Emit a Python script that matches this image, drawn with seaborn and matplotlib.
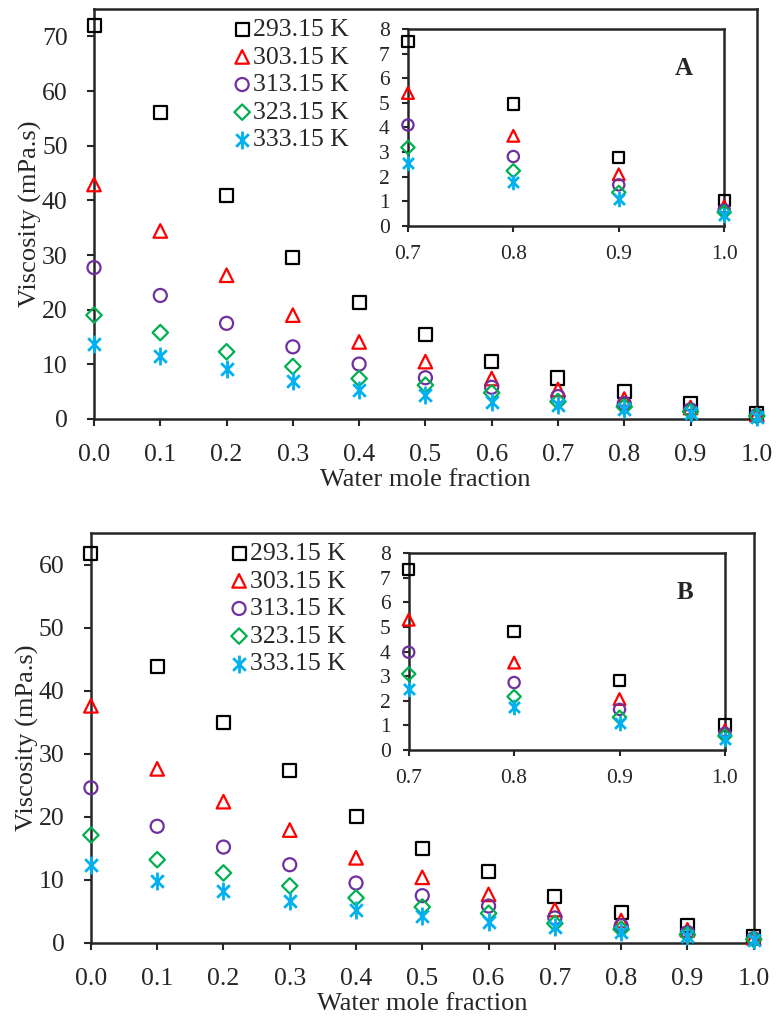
import matplotlib
matplotlib.use("Agg")
import matplotlib.pyplot as plt
from matplotlib.path import Path
import seaborn as sns
import pandas as pd

# ---- data ----
x_frac = [0.0, 0.1, 0.2, 0.3, 0.4, 0.5, 0.6, 0.7, 0.8, 0.9, 1.0]
temps = ["293.15 K", "303.15 K", "313.15 K", "323.15 K", "333.15 K"]

# panel A viscosity (mPa.s)
a_293 = [72.0, 56.0, 40.8, 29.5, 21.4, 15.4, 10.5, 7.5, 4.95, 2.79, 1.02]
a_303 = [42.9, 34.4, 26.3, 19.0, 14.1, 10.5, 7.4, 5.4, 3.66, 2.10, 0.80]
a_313 = [27.7, 22.6, 17.5, 13.2, 10.05, 7.55, 5.8, 4.10, 2.82, 1.67, 0.65]
a_323 = [19.0, 15.8, 12.3, 9.6, 7.4, 6.2, 4.8, 3.19, 2.24, 1.36, 0.56]
a_333 = [13.7, 11.5, 9.1, 7.0, 5.3, 4.4, 3.2, 2.55, 1.80, 1.08, 0.45]

# panel B viscosity (mPa.s)
b_293 = [61.7, 43.8, 34.9, 27.3, 20.1, 15.0, 11.3, 7.32, 4.81, 2.82, 1.02]
b_303 = [37.6, 27.6, 22.4, 17.9, 13.5, 10.4, 7.7, 5.29, 3.55, 2.07, 0.81]
b_313 = [24.6, 18.5, 15.2, 12.4, 9.5, 7.5, 5.85, 3.97, 2.74, 1.65, 0.68]
b_323 = [17.1, 13.2, 11.1, 9.05, 7.15, 5.7, 4.7, 3.09, 2.17, 1.33, 0.57]
b_333 = [12.4, 9.85, 8.2, 6.6, 5.2, 4.3, 3.35, 2.47, 1.74, 1.08, 0.43]

colors = ["#000000", "#FF0000", "#7030A0", "#00B050", "#00B0F0"]

# Excel style asterisk: an X with a vertical bar
d45 = 0.7071
star = Path([(0, -1), (0, 1), (-d45, -d45), (d45, d45), (-d45, d45), (d45, -d45)],
            [Path.MOVETO, Path.LINETO] * 3)
markers = ["s", "^", "o", "D", star]
sizes = [88, 95, 88, 62, 165]

sns.set_style("ticks")
plt.rcParams["font.family"] = ["Liberation Serif", "DejaVu Serif"]
plt.rcParams["axes.linewidth"] = 1.8
plt.rcParams["xtick.direction"] = "out"
plt.rcParams["ytick.direction"] = "out"

fig = plt.figure(figsize=(7.77, 10.16), dpi=100)


def draw_series(ax, series, xs, scale=1.0, keep=None):
    for lab, ys, col, mk, sz in zip(temps, series, colors, markers, sizes):
        d = pd.DataFrame({"x": xs, "y": ys})
        if keep is not None:
            d = d[d["x"] >= keep]
        is_star = isinstance(mk, Path)
        sns.scatterplot(data=d, x="x", y="y", ax=ax, marker=mk, s=sz * scale,
                        label=lab, clip_on=False, zorder=3,
                        facecolor=col if is_star else "none",
                        edgecolor=col, linewidth=2.0 if is_star else 1.6)


def panel(rect, inset_rect, series, ymax, yticks, tag):
    ax = fig.add_axes(rect)
    draw_series(ax, series, x_frac)
    ax.set_xlim(0, 1)
    ax.set_ylim(0, ymax)
    ax.set_xticks(x_frac)
    ax.set_xticklabels([f"{v:.1f}" for v in x_frac])
    ax.set_yticks(yticks)
    ax.tick_params(labelsize=18.5, length=5, width=1.5)
    ax.tick_params(axis="x", pad=13)
    ax.tick_params(axis="y", pad=14)
    ax.set_xlabel("Water mole fraction", fontsize=19, labelpad=2)
    ax.set_ylabel("Viscosity (mPa.s)", fontsize=19, labelpad=0)
    ax.legend(loc="upper left", bbox_to_anchor=(0.208, 0.978), frameon=False,
              fontsize=18.5, handletextpad=0.03, labelspacing=0.18,
              borderpad=0.0, handlelength=0.8, borderaxespad=0.0)

    ins = fig.add_axes(inset_rect)
    draw_series(ins, series, x_frac, scale=0.75, keep=0.7)
    ins.set_xlim(0.7, 1.0)
    ins.set_ylim(0, 8)
    ins.set_xticks([0.7, 0.8, 0.9, 1.0])
    ins.set_xticklabels(["0.7", "0.8", "0.9", "1.0"])
    ins.set_yticks(range(0, 9))
    ins.tick_params(labelsize=15.5, length=4, width=1.5)
    ins.tick_params(axis="x", pad=10)
    ins.tick_params(axis="y", pad=9)
    ins.set_xlabel("")
    ins.set_ylabel("")
    ins.text(0.9, 0.8, tag, transform=ins.transAxes, fontsize=18,
             fontweight="bold", ha="right", va="center")
    if ins.get_legend() is not None:
        ins.get_legend().remove()
    return ax, ins


panel([0.121, 0.5876, 0.853, 0.4035], [0.525, 0.7776, 0.407, 0.1939],
      [a_293, a_303, a_313, a_323, a_333], 75, range(0, 71, 10), "A")
panel([0.117, 0.0719, 0.853, 0.4035], [0.526, 0.2618, 0.407, 0.1939],
      [b_293, b_303, b_313, b_323, b_333], 65, range(0, 61, 10), "B")

fig.savefig("out.png", dpi=100)
